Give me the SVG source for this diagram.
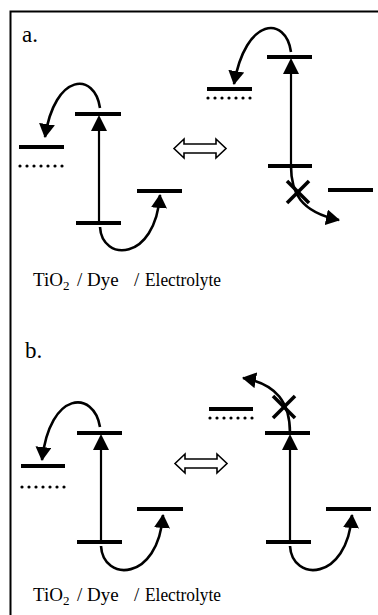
<svg xmlns="http://www.w3.org/2000/svg" width="378" height="615" viewBox="0 0 378 615">
<style>
.lvl{stroke:#000;stroke-width:4;fill:none}
.dot{stroke:#000;stroke-width:3.2;stroke-linecap:round;stroke-dasharray:0 7;fill:none}
.arc{stroke:#000;stroke-width:2.6;fill:none;marker-end:url(#ah)}
.vert{stroke:#000;stroke-width:2.2;fill:none}
.head{fill:#000;stroke:none}
.xm{stroke:#000;stroke-width:3.6;fill:none}
.dbl{fill:#fff;stroke:#000;stroke-width:1.6;stroke-linejoin:miter}
.lbl{font-family:"Liberation Serif","Times New Roman",serif;font-size:19px;fill:#000}
.pl{font-family:"Liberation Serif","Times New Roman",serif;font-size:23px;fill:#000}
.frame{stroke:#000;stroke-width:2;fill:none}
</style>
<defs>
<marker id="ah" markerUnits="userSpaceOnUse" viewBox="0 0 14 16" refX="13" refY="8" markerWidth="14" markerHeight="16" orient="auto">
<path d="M0,0 L14,8 L0,16 Z" fill="#000"/>
</marker>
</defs>
<rect width="378" height="615" fill="#fff"/>
<g id="frame">
<path class="frame" d="M10.5,615 L10.5,11.5 L378,11.5"/>
</g>

<!-- Panel a -->
<g id="panel-a-label"><text class="pl" x="22" y="42">a.</text></g>
<g id="a-left-tio2"><line class="lvl" x1="19" y1="147" x2="64" y2="147"/><line class="dot" x1="20" y1="166" x2="64" y2="166"/></g>
<g id="a-left-dye"><line class="lvl" x1="75" y1="114" x2="121" y2="114"/><line class="lvl" x1="76" y1="223" x2="121" y2="223"/></g>
<g id="a-left-electrolyte"><line class="lvl" x1="137" y1="191" x2="182" y2="191"/></g>
<g id="a-switch"><path class="dbl" d="M174,148.5 L184,139 L184,144 L216,144 L216,139 L226,148.5 L216,158 L216,153 L184,153 L184,158 Z"/></g>
<g id="a-right-tio2"><line class="lvl" x1="207" y1="89" x2="252" y2="89"/><line class="dot" x1="208" y1="98" x2="252" y2="98"/></g>
<g id="a-right-dye"><line class="lvl" x1="267" y1="57" x2="312" y2="57"/><line class="lvl" x1="268" y1="166" x2="312" y2="166"/></g>
<g id="a-right-electrolyte"><line class="lvl" x1="328" y1="190" x2="373" y2="190"/></g>
<g id="a-caption"><text class="lbl" x="33" y="286">TiO<tspan font-size="13" dy="4">2</tspan><tspan x="77" dy="-4">/</tspan><tspan x="87">Dye</tspan><tspan x="134">/</tspan><tspan x="145" textLength="76" lengthAdjust="spacingAndGlyphs">Electrolyte</tspan></text></g>

<!-- Panel b -->
<g id="panel-b-label"><text class="pl" x="25" y="358">b.</text></g>
<g id="b-left-tio2"><line class="lvl" x1="21" y1="466" x2="65" y2="466"/><line class="dot" x1="22" y1="487" x2="65" y2="487"/></g>
<g id="b-left-dye"><line class="lvl" x1="77" y1="433" x2="122" y2="433"/><line class="lvl" x1="77" y1="542" x2="122" y2="542"/></g>
<g id="b-left-electrolyte"><line class="lvl" x1="137" y1="509" x2="183" y2="509"/></g>
<g id="b-switch"><path class="dbl" d="M175,463.5 L185,454 L185,459 L217,459 L217,454 L227,463.5 L217,473 L217,468 L185,468 L185,473 Z"/></g>
<g id="b-right-tio2"><line class="lvl" x1="209" y1="409" x2="253" y2="409"/><line class="dot" x1="210" y1="418" x2="254" y2="418"/></g>
<g id="b-right-dye"><line class="lvl" x1="265" y1="433" x2="310" y2="433"/><line class="lvl" x1="266" y1="542" x2="311" y2="542"/></g>
<g id="b-right-electrolyte"><line class="lvl" x1="326" y1="509" x2="371" y2="509"/></g>
<g id="b-caption"><text class="lbl" x="33" y="601">TiO<tspan font-size="13" dy="4">2</tspan><tspan x="77" dy="-4">/</tspan><tspan x="87">Dye</tspan><tspan x="134">/</tspan><tspan x="145" textLength="76" lengthAdjust="spacingAndGlyphs">Electrolyte</tspan></text></g>

<g id="connectors">
<!-- a left -->
<line class="vert" x1="99" y1="223" x2="99" y2="128"/>
<polygon class="head" points="99,115 91,131 107,131"/>
<path class="arc" d="M100,108 C95,72 55,72 45,137"/>
<path class="arc" d="M100,227 C102,262 155,262 160,195"/>
<!-- a right -->
<line class="vert" x1="291" y1="166" x2="291" y2="71"/>
<polygon class="head" points="291,58 283,74 299,74"/>
<path class="arc" d="M291,52 C286,16 246,16 234,84"/>
<path class="arc" d="M291,166 C291,192 300,212 339,220"/>
<g class="xm"><line x1="287" y1="181" x2="309" y2="203"/><line x1="309" y1="181" x2="287" y2="203"/></g>
<!-- b left -->
<line class="vert" x1="101" y1="542" x2="101" y2="447"/>
<polygon class="head" points="101,434 93,450 109,450"/>
<path class="arc" d="M100,427 C94,390 50,390 42,460"/>
<path class="arc" d="M101,546 C103,582 158,582 163,515"/>
<!-- b right -->
<line class="vert" x1="290" y1="542" x2="290" y2="447"/>
<polygon class="head" points="290,434 282,450 298,450"/>
<path class="arc" d="M290,433 C290,403 277,384 243,378"/>
<path class="arc" d="M290,546 C292,582 347,582 352,515"/>
<g class="xm"><line x1="273" y1="396" x2="295" y2="418"/><line x1="295" y1="396" x2="273" y2="418"/></g>
</g>
</svg>
